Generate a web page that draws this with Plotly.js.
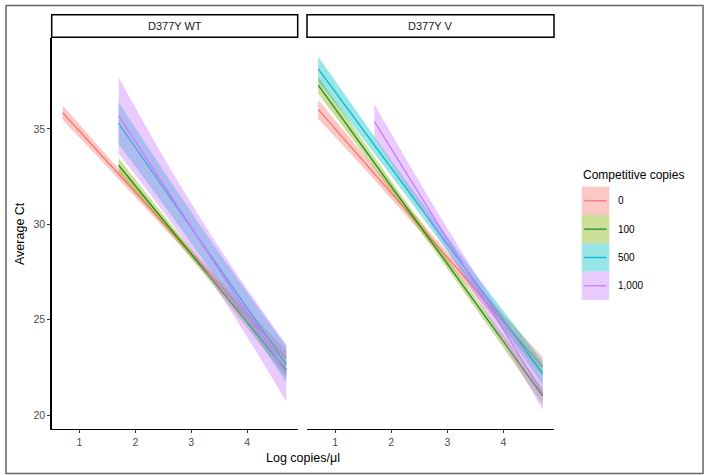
<!DOCTYPE html>
<html>
<head>
<meta charset="utf-8">
<script src="https://cdn.plot.ly/plotly-3.0.1.min.js"></script>
<style>html,body{margin:0;padding:0;background:#fff;}#chart{width:704px;height:475px;}</style>
</head>
<body>
<div id="chart"></div>
<script>
// ---------------- DATA ----------------
const panels = ["D377Y WT", "D377Y V"];
const groups = ["0", "100", "500", "1,000"];
const lineColors = ["#F8766D", "#228B22", "#00BFC4", "#C77CFF"];
const fillColors = ["rgba(248,118,109,0.4)", "rgba(124,174,0,0.4)", "rgba(0,191,196,0.4)", "rgba(199,124,255,0.4)"];

const xFull = [0.7, 1.7, 2.7, 3.7, 4.7];
const xShort = [1.7, 2.7, 3.7, 4.7];

// D377Y WT : fitted Ct and ribbon half-widths
const wt0_fit = [35.85, 32.64, 29.42, 26.21, 23.0];
const wt0_hw = [0.38, 0.27, 0.22, 0.27, 0.38];
const wt100_fit = [33.1, 29.52, 25.93, 22.35];
const wt100_hw = [0.38, 0.25, 0.25, 0.38];
const wt500_fit = [35.3, 31.09, 26.87, 22.66];
const wt500_hw = [1.1, 0.85, 0.8, 0.95];
const wt1000_fit = [35.7, 31.2, 26.7, 22.2];
const wt1000_hw = [2.0, 1.35, 1.2, 1.5];

// D377Y V
const v0_fit = [36.03, 32.66, 29.28, 25.91, 22.53];
const v0_hw = [0.5, 0.33, 0.27, 0.33, 0.5];
const v100_fit = [37.3, 33.23, 29.15, 25.08, 21.0];
const v100_hw = [0.45, 0.3, 0.25, 0.3, 0.45];
const v500_fit = [38.15, 34.16, 30.16, 26.17, 22.18];
const v500_hw = [0.65, 0.45, 0.38, 0.45, 0.6];
const v1000_fit = [35.4, 30.65, 25.89, 21.14];
const v1000_hw = [0.9, 0.6, 0.6, 0.88];

const yTicks = [20, 25, 30, 35];
const xTicks = [1, 2, 3, 4];

// ---------------- BUILD ----------------
const W = 704, H = 475;
const px = v => v / W;
const py = v => 1 - v / H;

const seriesWT = [[xFull, wt0_fit, wt0_hw], [xShort, wt100_fit, wt100_hw], [xShort, wt500_fit, wt500_hw], [xShort, wt1000_fit, wt1000_hw]];
const seriesV = [[xFull, v0_fit, v0_hw], [xFull, v100_fit, v100_hw], [xFull, v500_fit, v500_hw], [xShort, v1000_fit, v1000_hw]];

const traces = [];
function addPanel(series, xa, ya) {
  series.forEach((s, i) => {
    const [xs, fit, hw] = s;
    const lo = fit.map((v, k) => v - hw[k]);
    const hi = fit.map((v, k) => v + hw[k]);
    traces.push({x: xs, y: lo, xaxis: xa, yaxis: ya, mode: 'lines', line: {width: 0, shape: 'spline'}, hoverinfo: 'skip', showlegend: false});
    traces.push({x: xs, y: hi, xaxis: xa, yaxis: ya, mode: 'lines', line: {width: 0, shape: 'spline'}, fill: 'tonexty', fillcolor: fillColors[i], hoverinfo: 'skip', showlegend: false});
    traces.push({x: xs, y: fit, xaxis: xa, yaxis: ya, mode: 'lines', line: {width: 1.3, color: lineColors[i]}, name: groups[i], showlegend: false});
  });
}
addPanel(seriesWT, 'x', 'y');
addPanel(seriesV, 'x2', 'y2');

const yRange = [19.27, 39.77];
const xRange = [0.5, 4.9];
const tickfont = {size: 10.5, color: '#4D4D4D', family: 'Liberation Sans, Arial, sans-serif'};
const baseX = {range: xRange, tickvals: xTicks, ticktext: xTicks.map(String), ticks: 'outside', ticklen: 3, tickwidth: 1, tickcolor: '#333',
  showline: true, linecolor: '#000', linewidth: 1.3, showgrid: false, zeroline: false, tickfont: tickfont, fixedrange: true};
const yDomain = [py(429), py(38)];

const layout = {
  width: W, height: H,
  margin: {l: 0, r: 0, t: 0, b: 0},
  paper_bgcolor: '#fff', plot_bgcolor: 'rgba(0,0,0,0)',
  font: {family: 'Liberation Sans, Arial, sans-serif', color: '#000'},
  showlegend: false,
  xaxis: Object.assign({}, baseX, {domain: [px(51.5), px(297.5)], anchor: 'y'}),
  xaxis2: Object.assign({}, baseX, {domain: [px(307), px(554)], anchor: 'y2'}),
  yaxis: {domain: yDomain, range: yRange, anchor: 'x', tickvals: yTicks, ticktext: yTicks.map(String), ticks: 'outside', ticklen: 3, tickwidth: 1, tickcolor: '#333',
    showline: true, linecolor: '#000', linewidth: 1.3, showgrid: false, zeroline: false, tickfont: tickfont, fixedrange: true},
  yaxis2: {domain: yDomain, range: yRange, anchor: 'x2', showticklabels: false, ticks: '', showline: false, showgrid: false, zeroline: false, fixedrange: true},
  shapes: [], annotations: []
};

// outer border
layout.shapes.push({type: 'rect', xref: 'paper', yref: 'paper', x0: px(6), x1: px(703), y0: py(473.5), y1: py(5.5), line: {color: '#666', width: 1.5}, fillcolor: 'rgba(0,0,0,0)', layer: 'below'});

// strips
const stripX = [[51.7, 297.7], [307, 554]];
panels.forEach((p, i) => {
  layout.shapes.push({type: 'rect', xref: 'paper', yref: 'paper', x0: px(stripX[i][0]), x1: px(stripX[i][1]), y0: py(37.3), y1: py(14.7), line: {color: '#000', width: 1.5}, fillcolor: '#fff'});
  layout.annotations.push({xref: 'paper', yref: 'paper', x: px((stripX[i][0] + stripX[i][1]) / 2), y: py(26), text: p, showarrow: false, xanchor: 'center', yanchor: 'middle', font: {size: 11, color: '#1A1A1A'}});
});

// axis titles
layout.annotations.push({xref: 'paper', yref: 'paper', x: px(303), y: py(457.5), text: 'Log copies/μl', showarrow: false, xanchor: 'center', yanchor: 'middle', font: {size: 12.5, color: '#000'}});
layout.annotations.push({xref: 'paper', yref: 'paper', x: px(20), y: py(234), text: 'Average Ct', textangle: -90, showarrow: false, xanchor: 'center', yanchor: 'middle', font: {size: 12.5, color: '#000'}});

// legend (manual, ggplot style)
layout.annotations.push({xref: 'paper', yref: 'paper', x: px(581), y: py(175), text: 'Competitive copies', showarrow: false, xanchor: 'left', yanchor: 'middle', font: {size: 12, color: '#000'}});
const keyTop = 186.7, keyH = 28.3, keyX0 = 581.7, keyX1 = 609.3;
groups.forEach((g, i) => {
  const y0 = keyTop + i * keyH, y1 = y0 + keyH, yc = (y0 + y1) / 2;
  layout.shapes.push({type: 'rect', xref: 'paper', yref: 'paper', x0: px(keyX0), x1: px(keyX1), y0: py(y1), y1: py(y0), line: {width: 0}, fillcolor: fillColors[i]});
  layout.shapes.push({type: 'line', xref: 'paper', yref: 'paper', x0: px(584.3), x1: px(606.5), y0: py(yc), y1: py(yc), line: {color: lineColors[i], width: 1.3}});
  layout.annotations.push({xref: 'paper', yref: 'paper', x: px(616), y: py(yc), text: g, showarrow: false, xanchor: 'left', yanchor: 'middle', font: {size: 10, color: '#000'}});
});

Plotly.newPlot('chart', traces, layout, {displayModeBar: false, staticPlot: true});
</script>
</body>
</html>
